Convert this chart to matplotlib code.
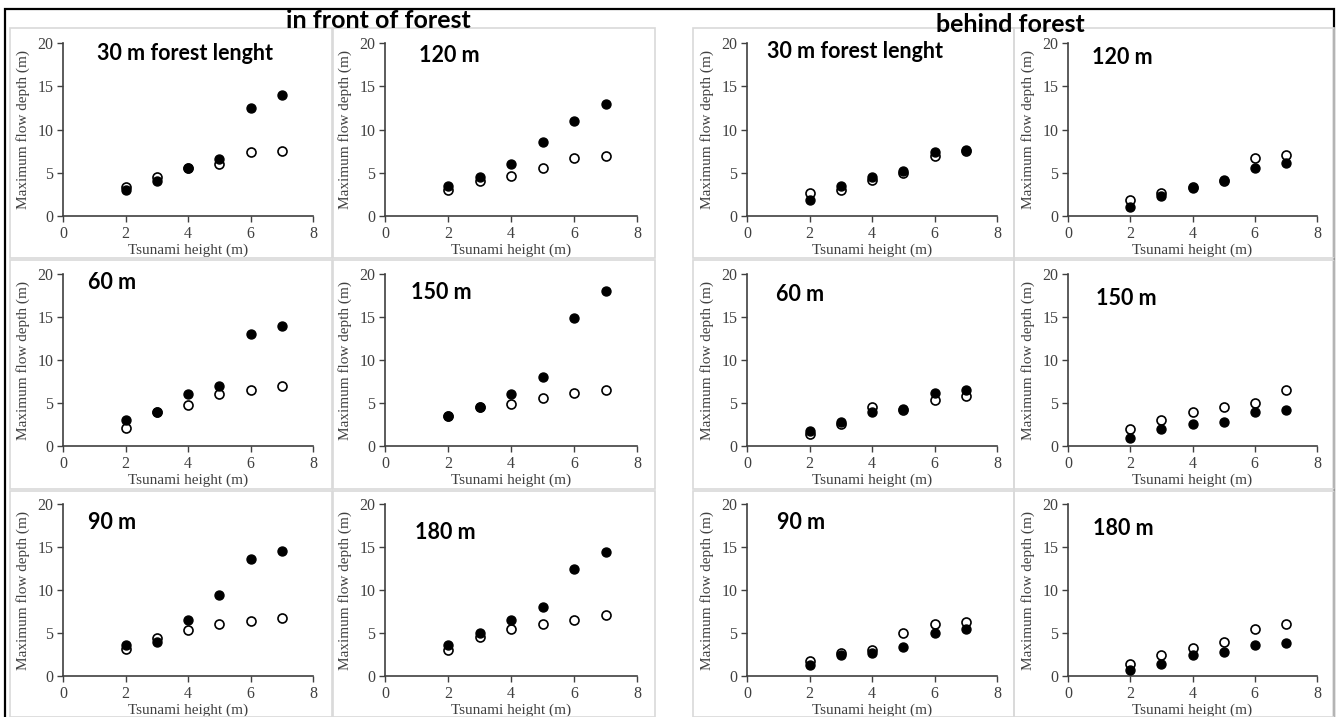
import matplotlib
matplotlib.use("Agg")
import matplotlib.pyplot as plt
from matplotlib.patches import Rectangle

W, H = 1336, 717

tsunami_height = [2, 3, 4, 5, 6, 7]

# panel names (forest length)
names_col_a = ["30 m forest lenght", "60 m", "90 m"]
names_col_b = ["120 m", "150 m", "180 m"]

# in front of forest - filled / open markers
front_30_filled = [3.0, 4.0, 5.6, 6.6, 12.5, 14.0]
front_30_open = [3.4, 4.5, 5.6, 6.0, 7.35, 7.5]
front_60_filled = [3.0, 4.0, 6.0, 7.0, 13.05, 14.0]
front_60_open = [2.05, 4.0, 4.8, 6.0, 6.5, 7.0]
front_90_filled = [3.55, 4.0, 6.55, 9.4, 13.55, 14.5]
front_90_open = [3.15, 4.4, 5.35, 6.0, 6.45, 6.7]
front_120_filled = [3.5, 4.5, 6.0, 8.5, 11.0, 13.0]
front_120_open = [3.05, 4.1, 4.6, 5.55, 6.7, 6.9]
front_150_filled = [3.45, 4.5, 6.0, 8.0, 14.9, 18.0]
front_150_open = [3.45, 4.5, 4.85, 5.55, 6.2, 6.55]
front_180_filled = [3.55, 5.0, 6.5, 8.0, 12.5, 14.45]
front_180_open = [3.05, 4.5, 5.45, 6.0, 6.5, 7.05]

# behind forest
behind_30_filled = [1.9, 3.5, 4.5, 5.2, 7.4, 7.6]
behind_30_open = [2.7, 3.0, 4.2, 5.0, 6.9, 7.5]
behind_60_filled = [1.75, 2.8, 4.0, 4.3, 6.2, 6.5]
behind_60_open = [1.4, 2.55, 4.5, 4.2, 5.35, 5.85]
behind_90_filled = [1.25, 2.4, 2.7, 3.4, 5.0, 5.45]
behind_90_open = [1.7, 2.7, 3.0, 5.0, 6.0, 6.25]
behind_120_filled = [1.0, 2.35, 3.2, 4.2, 5.6, 6.1]
behind_120_open = [1.8, 2.7, 3.3, 4.0, 6.65, 7.0]
behind_150_filled = [0.97, 2.0, 2.5, 2.8, 3.9, 4.2]
behind_150_open = [2.0, 3.0, 4.0, 4.5, 5.0, 6.55]
behind_180_filled = [0.7, 1.4, 2.5, 2.8, 3.6, 3.8]
behind_180_open = [1.35, 2.5, 3.3, 4.0, 5.45, 6.05]

# column / row pixel extents of the plot areas
col_px = [(63, 313), (385, 637), (747, 997), (1068, 1317)]
row_px = [(43, 216), (274, 446), (504, 676)]
# panel frames (light grey boxes)
frame_col = [(10, 332), (333, 655), (693, 1014), (1014, 1334)]
frame_row = [(28, 258), (260, 489), (491, 717)]

panels = [
    # (col, row, name, filled, open, label x, label y)
    (0, 0, names_col_a[0], front_30_filled, front_30_open, 1.09, 18.8),
    (0, 1, names_col_a[1], front_60_filled, front_60_open, 0.8, 19.0),
    (0, 2, names_col_a[2], front_90_filled, front_90_open, 0.8, 17.8),
    (1, 0, names_col_b[0], front_120_filled, front_120_open, 1.08, 18.6),
    (1, 1, names_col_b[1], front_150_filled, front_150_open, 0.83, 17.9),
    (1, 2, names_col_b[2], front_180_filled, front_180_open, 0.95, 16.7),
    (2, 0, names_col_a[0], behind_30_filled, behind_30_open, 0.64, 19.0),
    (2, 1, names_col_a[1], behind_60_filled, behind_60_open, 0.93, 17.6),
    (2, 2, names_col_a[2], behind_90_filled, behind_90_open, 0.96, 17.9),
    (3, 0, names_col_b[0], behind_120_filled, behind_120_open, 0.77, 18.3),
    (3, 1, names_col_b[1], behind_150_filled, behind_150_open, 0.9, 17.1),
    (3, 2, names_col_b[2], behind_180_filled, behind_180_open, 0.8, 17.2),
]

fig = plt.figure(figsize=(W / 100, H / 100), dpi=100)
fig.patch.set_facecolor("white")

# outer black border
fig.patches.append(Rectangle((5 / W, -0.01), (1334 - 5) / W, 1.01 - 9 / H,
                             transform=fig.transFigure, fill=False,
                             edgecolor="black", linewidth=1.6))

# light grey panel frames
for c in range(4):
    for r in range(3):
        x0, x1 = frame_col[c]
        y0, y1 = frame_row[r]
        fig.patches.append(Rectangle((x0 / W, 1 - y1 / H), (x1 - x0) / W, (y1 - y0) / H,
                                     transform=fig.transFigure, fill=False,
                                     edgecolor="#d9d9d9", linewidth=1.2))

axis_col = "#404040"
serif = "Liberation Serif"

for c, r, name, filled, opn, lx, ly in panels:
    x0, x1 = col_px[c]
    y0, y1 = row_px[r]
    ax = fig.add_axes([x0 / W, 1 - y1 / H, (x1 - x0) / W, (y1 - y0) / H])
    ax.scatter(tsunami_height, opn, s=42, facecolor="white", edgecolor="black",
               linewidth=1.2, zorder=3, clip_on=False)
    ax.scatter(tsunami_height, filled, s=42, color="black", zorder=4, clip_on=False)
    ax.set_xlim(0, 8)
    ax.set_ylim(0, 20)
    ax.set_xticks([0, 2, 4, 6, 8])
    ax.set_yticks([0, 5, 10, 15, 20])
    for s in ["top", "right"]:
        ax.spines[s].set_visible(False)
    for s in ["left", "bottom"]:
        ax.spines[s].set_color(axis_col)
        ax.spines[s].set_linewidth(1.2)
    ax.tick_params(direction="out", length=4, width=1.0, color=axis_col,
                   labelcolor=axis_col, labelsize=11.5, pad=3)
    for lab in ax.get_xticklabels() + ax.get_yticklabels():
        lab.set_fontfamily(serif)
    ax.set_xlabel("Tsunami height (m)", family=serif, fontsize=11, color=axis_col, labelpad=1)
    ax.set_ylabel("Maximum flow depth (m)", family=serif, fontsize=11, color=axis_col, labelpad=5)
    ax.set_facecolor("none")
    ax.text(lx, ly, name, family="Lato", fontweight="bold", fontsize=15.5,
            va="center", ha="left", color="black")

fig.text(378 / W, 1 - 20 / H, "in front of forest", family="Lato", fontweight="bold",
         fontsize=18, ha="center", va="center")
fig.text(1010 / W, 1 - 24 / H, "behind forest", family="Lato", fontweight="bold",
         fontsize=18, ha="center", va="center")

fig.savefig("out.png", dpi=100)
